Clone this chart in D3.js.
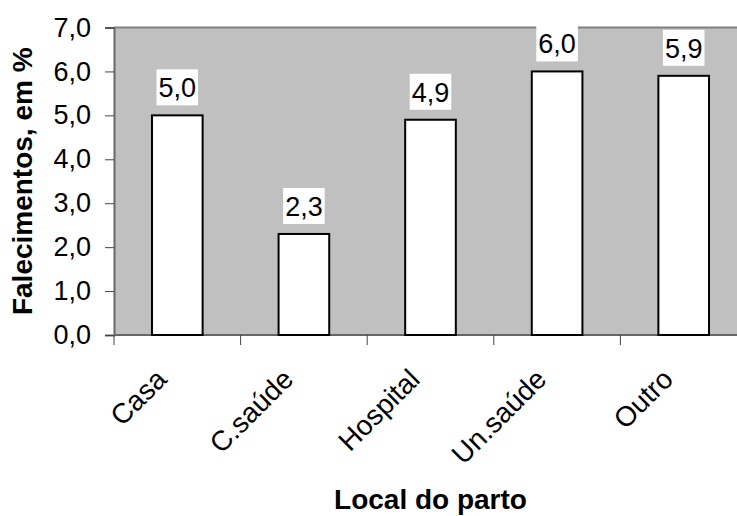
<!DOCTYPE html>
<html>
<head>
<meta charset="utf-8">
<script src="https://cdn.jsdelivr.net/npm/d3@7"></script>
<style>
  html, body { margin: 0; padding: 0; background: #fff; }
  svg { display: block; font-family: "Liberation Sans", Arial, sans-serif; }
</style>
</head>
<body>
<svg id="chart" width="737" height="516"></svg>
<script>
// Deaths by place of delivery, in percent
const categories = ["Casa", "C.saúde", "Hospital", "Un.saúde", "Outro"];
const values = [5.0, 2.3, 4.9, 6.0, 5.9];
const yTicks = [0, 1, 2, 3, 4, 5, 6, 7];
const yTitle = "Falecimentos, em %";
const xTitle = "Local do parto";

const fmt = v => d3.format(".1f")(v).replace(".", ",");

const svg = d3.select("#chart");
const plot = { left: 114, right: 747, top: 27.5, bottom: 335 };

const x = d3.scaleBand()
  .domain(categories)
  .range([plot.left, plot.right])
  .paddingInner(0.6)
  .paddingOuter(0.3);

const y = d3.scaleLinear()
  .domain([0, 7])
  .range([plot.bottom, plot.top]);

// plot background
svg.append("rect")
  .attr("x", plot.left).attr("y", plot.top)
  .attr("width", plot.right - plot.left)
  .attr("height", plot.bottom - plot.top)
  .attr("fill", "#c0c0c0");

// top border
svg.append("line")
  .attr("x1", plot.left).attr("x2", plot.right)
  .attr("y1", plot.top).attr("y2", plot.top)
  .attr("stroke", "#808080").attr("stroke-width", 2);

// y axis
const yAxis = d3.axisLeft(y).tickValues(yTicks).tickFormat(fmt).tickSize(9).tickPadding(14);
const gy = svg.append("g")
  .attr("transform", `translate(${plot.left},0)`)
  .call(yAxis);
gy.select(".domain").attr("stroke", "#666").attr("stroke-width", 2);
gy.selectAll(".tick line").attr("stroke", "#444").attr("stroke-width", 1);
gy.selectAll(".tick text")
  .attr("font-size", 27).attr("fill", "#000")
  .attr("font-family", "'Liberation Sans', Arial, sans-serif");

// x axis baseline and category separators
const step = x.step();
const bounds = d3.range(categories.length + 1).map(i => plot.left + i * step);
svg.append("line")
  .attr("x1", plot.left).attr("x2", plot.right)
  .attr("y1", plot.bottom).attr("y2", plot.bottom)
  .attr("stroke", "#666").attr("stroke-width", 2);
svg.append("g").selectAll("line")
  .data(bounds)
  .join("line")
  .attr("x1", d => d).attr("x2", d => d)
  .attr("y1", plot.bottom).attr("y2", plot.bottom + 10)
  .attr("stroke", "#444").attr("stroke-width", 1);

// bars
svg.append("g").selectAll("rect")
  .data(values)
  .join("rect")
  .attr("x", (d, i) => x(categories[i]))
  .attr("y", d => y(d))
  .attr("width", x.bandwidth())
  .attr("height", d => y(0) - y(d))
  .attr("fill", "#fff")
  .attr("stroke", "#000")
  .attr("stroke-width", 2);

// value labels on white boxes
const labels = svg.append("g").selectAll("g")
  .data(values)
  .join("g")
  .attr("transform", (d, i) => `translate(${x(categories[i]) + x.bandwidth() / 2},${y(d) - 18})`);
labels.each(function (d) {
  const g = d3.select(this);
  const t = g.append("text")
    .attr("text-anchor", "middle")
    .attr("font-size", 27)
    .attr("fill", "#000")
    .text(fmt(d));
  const w = t.node().getComputedTextLength();
  g.insert("rect", "text")
    .attr("x", -w / 2 - 2).attr("y", -28)
    .attr("width", w + 4).attr("height", 36)
    .attr("fill", "#fff");
});

// rotated category labels
svg.append("g").selectAll("text")
  .data(categories)
  .join("text")
  .attr("transform", d => `translate(${x(d) + x.bandwidth() / 2 - 9},${plot.bottom + 46}) rotate(-45)`)
  .attr("text-anchor", "end")
  .attr("font-size", 28)
  .attr("fill", "#000")
  .text(d => d);

// axis titles
svg.append("text")
  .attr("transform", `translate(32,${(plot.top + plot.bottom) / 2}) rotate(-90)`)
  .attr("text-anchor", "middle")
  .attr("font-size", 28)
  .attr("font-weight", "bold")
  .attr("fill", "#000")
  .text(yTitle);

svg.append("text")
  .attr("x", (plot.left + plot.right) / 2)
  .attr("y", 509)
  .attr("text-anchor", "middle")
  .attr("font-size", 28)
  .attr("font-weight", "bold")
  .attr("fill", "#000")
  .text(xTitle);
</script>
</body>
</html>
